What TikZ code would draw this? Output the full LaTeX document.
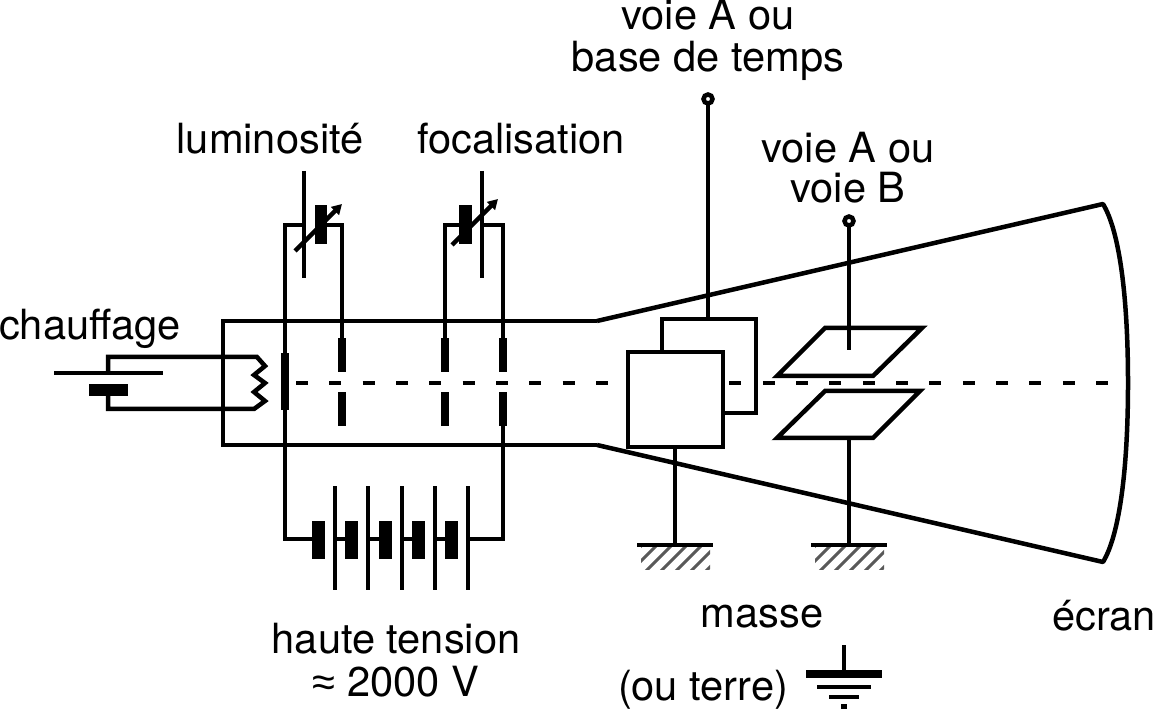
\documentclass[tikz,border=0pt]{standalone}
\usepackage{fontspec}
\usetikzlibrary{arrows.meta}
\setmainfont{TeX Gyre Heros}
\newfontfamily\approxfont{Liberation Sans}
\begin{document}
\begin{tikzpicture}[x=0.5pt,y=-0.5pt,
    wire/.style={line width=2.25pt},
    thin wire/.style={line width=1.9pt},
    plate/.style={fill=black,draw=none},
    hatch/.style={line width=1.5pt,black!65},
    lbl/.style={anchor=base,inner sep=0pt,font=\fontsize{20.8}{24}\selectfont}]
    \useasboundingbox (0,0) rectangle (1155,710);
    % tube
    \draw[wire] (597,321) -- (223,321) -- (223,445) -- (597,445);
    \draw[wire,line join=round] (597,321) -- (1103,204) .. controls (1120,232) and (1128,300) .. (1128,383)
      .. controls (1128,466) and (1120,534) .. (1103,562) -- (597,445);
    % axis
    \draw[wire,dash pattern=on 6pt off 10.67pt] (296,383) -- (1108,383);
    % heater
    \draw[thin wire] (54,373) -- (163,373);
    \fill[plate] (89,384) rectangle (128,396);
    \draw[wire] (108,373) -- (108,357) -- (257,357) -- (265,366) -- (254,375) -- (265,383) -- (254,392) -- (265,401) -- (254,409) -- (108,409) -- (108,396);
    % grid plates
    \fill[plate] (281,353) rectangle (289,410);
    \foreach \px in {342,445,503} {
      \fill[plate] (\px-4,338) rectangle (\px+4,372);
      \fill[plate] (\px-4,392) rectangle (\px+4,426);
    }
    % luminosite
    \draw[wire] (285,353) -- (285,225) -- (304,225);
    \draw[wire] (327,225) -- (342,225) -- (342,338);
    \draw[thin wire] (304,171) -- (304,278);
    \fill[plate] (315,205) rectangle (327,244);
    \draw[wire,-{Triangle[length=5pt,width=5.5pt]}] (295,251) -- (342,204);
    % focalisation
    \draw[wire] (445,338) -- (445,225) -- (459,225);
    \draw[wire] (482,225) -- (503,225) -- (503,338);
    \draw[thin wire] (482,171) -- (482,278);
    \fill[plate] (459,205) rectangle (472,244);
    \draw[wire,-{Triangle[length=5pt,width=5.5pt]}] (452,245) -- (498,199);
    % high voltage
    \draw[wire] (285,410) -- (285,539) -- (312,539);
    \draw[wire] (503,426) -- (503,539) -- (468,539);
    \foreach \cx/\tx in {312/335,345/368,379/402,412/435,445/468} {
      \fill[plate] (\cx,521) rectangle (\cx+13,559);
      \draw[thin wire] (\tx,486) -- (\tx,590);
    }
    \foreach \cx/\tx in {335/345,368/379,402/412,435/445} {
      \draw[thin wire] (\cx,539) -- (\tx,539);
    }
    % horizontal deflection
    \draw[wire] (662,352) -- (662,319) -- (756,319) -- (756,413) -- (723,413);
    \draw[wire,fill=white] (628,352) rectangle (723,447);
    \draw[wire] (708,319) -- (708,103);
    \draw[wire,fill=white] (708,99) circle (4.5);
    \draw[wire] (675,447) -- (675,545);
    % vertical deflection
    \draw[wire] (825,328) -- (922,328) -- (873,376) -- (777,376) -- cycle;
    \draw[wire] (825,391) -- (920,391) -- (873,438) -- (777,438) -- cycle;
    \draw[wire] (849,225) -- (849,350);
    \draw[wire,fill=white] (849,221) circle (4.5);
    \draw[wire] (849,438) -- (849,545);
    % ground
    \foreach \gx in {675,849} {
      \draw[wire] (\gx-38,545) -- (\gx+38,545);
      \begin{scope}
        \clip (\gx-34,547) rectangle (\gx+35,569);
        \foreach \hx in {-60,-45,...,60} {
          \draw[hatch] (\gx+\hx,572) -- (\gx+\hx+26,546);
        }
      \end{scope}
    }
    % earth
    \draw[wire] (844,645) -- (844,670);
    \fill[plate] (806,670) rectangle (882,678);
    \fill[plate] (817,685) rectangle (871,689);
    \fill[plate] (829,695) rectangle (859,699);
    \fill[plate] (841,704) rectangle (847,709);
    % labels
    \node[lbl] (voieAh) at (708,30) {voie A ou};
    \node[lbl] (base) at (708,72) {base de temps};
    \node[lbl] (lumi) at (270,154) {luminosité};
    \node[lbl] (foca) at (521,154) {focalisation};
    \node[lbl] (voieAv) at (848,163) {voie A ou};
    \node[lbl] (voieB) at (848,203) {voie B};
    \node[lbl] (chauf) at (90,340) {chauffage};
    \node[lbl] (haute) at (396,653) {haute tension};
    \node[lbl] (volts) at (396,696) {{\approxfont ≈} 2000 V};
    \node[lbl] (masse) at (762,627) {masse};
    \node[lbl] (terre) at (703,700) {(ou terre)};
    \node[lbl] (ecran) at (1104,630) {écran};
\end{tikzpicture}
\end{document}
